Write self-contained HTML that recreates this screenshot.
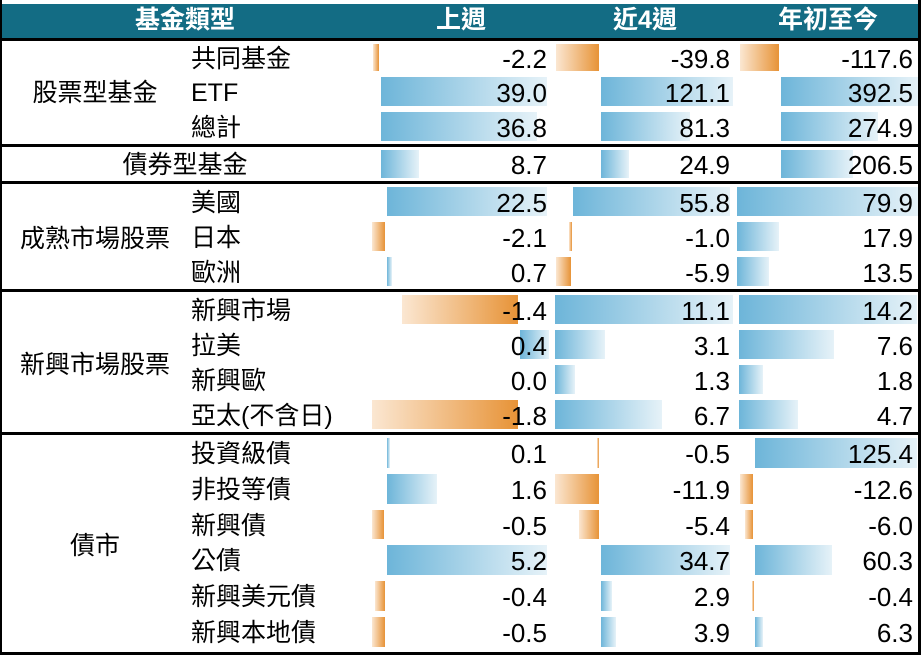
<!DOCTYPE html>
<html><head><meta charset="utf-8"><style>
body{margin:0;width:922px;height:655px;background:#fff;position:relative;overflow:hidden;font-family:"Liberation Sans","Noto Sans CJK TC",sans-serif;}
div{position:absolute;box-sizing:border-box;}
.t{font-size:25px;line-height:26px;color:#000;white-space:nowrap;}
.n{font-family:"Liberation Sans",sans-serif;font-size:26px;text-align:right;}
.h{color:#fff;font-weight:bold;font-size:25px;line-height:36px;top:0;text-align:center;}
.b{background:linear-gradient(to right,#6db5d9,#e6f2f8);}
.o{background:linear-gradient(to right,#fbe7d2,#e79337);}
</style></head><body>
<div style="left:0;top:0;width:921px;height:655px;border-left:2px solid #000;border-right:3px solid #000;border-bottom:3px solid #000"></div>
<div style="left:2px;top:4px;width:916px;height:34px;background:#136c84"></div>
<div class="h" style="left:85px;width:200px;top:2px">基金類型</div>
<div class="h" style="left:400px;width:122px;top:2px">上週</div>
<div class="h" style="left:585px;width:120px;top:2px">近4週</div>
<div class="h" style="left:765px;width:126px;top:2px">年初至今</div>
<div id="c"></div>
<script>
var rows=[
[41,33,"共同基金",["-2.2",373,379,1],["-39.8",556,599,1],["-117.6",740,779,1]],
[74,35,"ETF",["39.0",381,547,0],["121.1",601,733,0],["392.5",781,918,0]],
[109,35,"總計",["36.8",381,537,0],["81.3",601,690,0],["274.9",781,878,0]],
[147,34,"",["8.7",381,419,0],["24.9",601,629,0],["206.5",781,853,0]],
[184,35,"美國",["22.5",387,547,0],["55.8",573,730,0],["79.9",737,918,0]],
[219,35,"日本",["-2.1",372,385,1],["-1.0",569,572,1],["17.9",737,779,0]],
[254,35,"歐洲",["0.7",387,392,0],["-5.9",556,571,1],["13.5",737,769,0]],
[292,35,"新興市場",["-1.4",402,518,1],["11.1",555,733,0],["14.2",739,917,0]],
[327,35,"拉美",["0.4",520,549,0],["3.1",555,605,0],["7.6",739,834,0]],
[362,35,"新興歐",["0.0",0,0,0],["1.3",555,575,0],["1.8",739,763,0]],
[397,35,"亞太(不含日)",["-1.8",372,518,1],["6.7",555,662,0],["4.7",739,798,0]],
[435,36,"投資級債",["0.1",387,390,0],["-0.5",597,599,1],["125.4",755,917,0]],
[471,36,"非投等債",["1.6",387,437,0],["-11.9",555,599,1],["-12.6",740,753,1]],
[507,35,"新興債",["-0.5",372,384,1],["-5.4",579,599,1],["-6.0",745,753,1]],
[542,36,"公債",["5.2",387,547,0],["34.7",601,730,0],["60.3",755,832,0]],
[578,36,"新興美元債",["-0.4",375,385,1],["2.9",601,612,0],["-0.4",752,754,1]],
[614,36,"新興本地債",["-0.5",372,385,1],["3.9",601,616,0],["6.3",755,763,0]]];
var rx=[547,730,913],h="";
rows.forEach(function(r){
 var t=r[0],hh=r[1],y=Math.round(t+hh/2-12);
 if(r[2])h+='<div class="t" style="left:191px;top:'+y+'px">'+r[2]+'</div>';
 for(var i=0;i<3;i++){var c=r[3+i];
  if(c[2]>c[1])h+='<div class="'+(c[3]?'o':'b')+'" style="left:'+c[1]+'px;width:'+(c[2]-c[1])+'px;top:'+(t+3)+'px;height:'+(hh-6)+'px"></div>';
  h+='<div class="t n" style="left:'+(rx[i]-170)+'px;width:170px;top:'+y+'px">'+c[0]+'</div>';}
});
[[38,3],[144,3],[181,3],[289,3],[432,3]].forEach(function(l){h+='<div style="left:0;width:921px;top:'+l[0]+'px;height:'+l[1]+'px;background:#000"></div>';});
h+='<div class="t" style="left:0;width:190px;text-align:center;top:80px">股票型基金</div>';
h+='<div class="t" style="left:85px;width:200px;text-align:center;top:152px">債券型基金</div>';
h+='<div class="t" style="left:0;width:190px;text-align:center;top:226px">成熟市場股票</div>';
h+='<div class="t" style="left:0;width:190px;text-align:center;top:352px">新興市場股票</div>';
h+='<div class="t" style="left:0;width:190px;text-align:center;top:533px">債市</div>';
document.getElementById('c').innerHTML=h;
</script>
</body></html>
